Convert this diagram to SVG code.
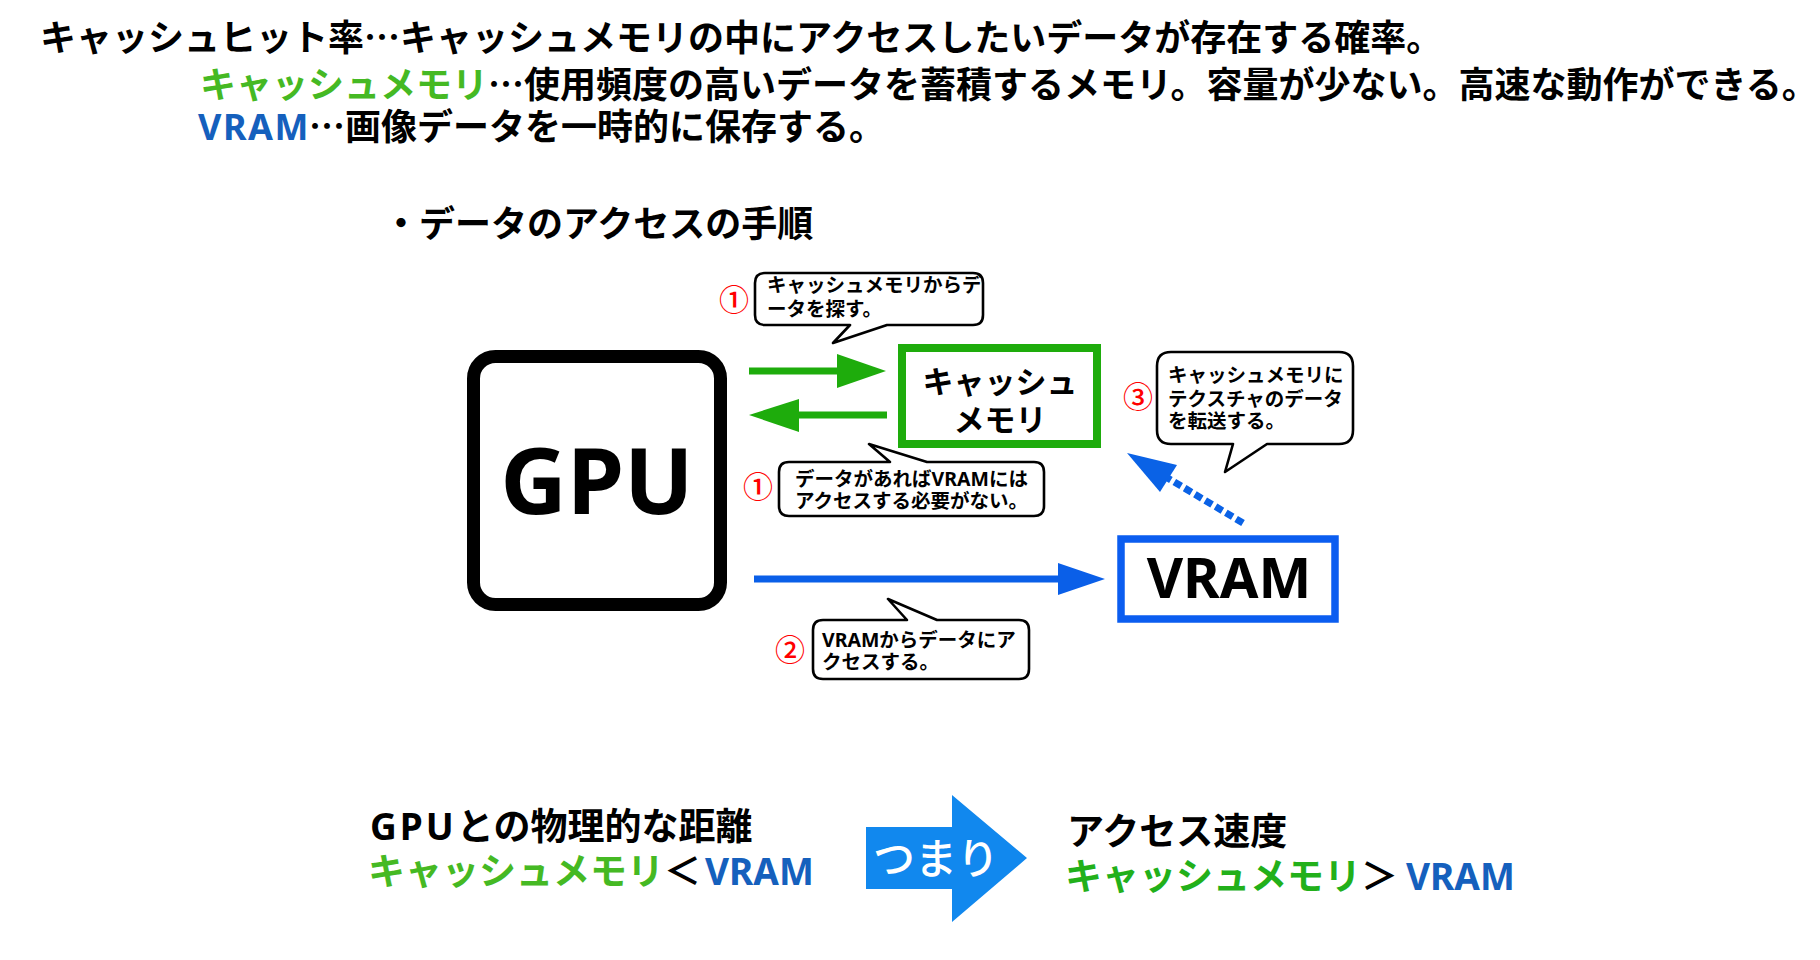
<svg xmlns="http://www.w3.org/2000/svg" width="1820" height="960" viewBox="0 0 1820 960">
<defs>
<style>
.t{font-family:"Noto Sans CJK JP","Noto Sans",sans-serif;font-weight:700;fill:#000}
.lat{font-family:"Noto Sans","Noto Sans CJK JP",sans-serif;font-weight:700}
.g1{fill:#45b923}
.g2{fill:#22b01a}
.b1{fill:#1560bd}
.num{font-family:"Noto Sans CJK JP",sans-serif;font-weight:500;fill:#ff0000;font-size:30px}
.call{fill:#fff;stroke:#000;stroke-width:2.6;stroke-linejoin:round}
.ct{font-family:"Noto Sans CJK JP","Noto Sans",sans-serif;font-weight:700;font-size:19.5px;fill:#000}
.garrow{stroke:#1eac0c;stroke-width:7;fill:none}
</style>
</defs>
<rect width="1820" height="960" fill="#fff"/>

<g id="header">
<text class="t" x="40" y="51" font-size="36">キャッシュヒット率…キャッシュメモリの中にアクセスしたいデータが存在する確率。</text>
<text class="t" x="200" y="98" font-size="36"><tspan class="g1">キャッシュメモリ</tspan>…使用頻度の高いデータを蓄積するメモリ。容量が少ない。高速な動作ができる。</text>
<text class="lat b1" x="198" y="140" font-size="36" letter-spacing="1.5">VRAM</text>
<text class="t" x="309" y="140" font-size="36">…画像データを一時的に保存する。</text>
<text class="t" x="383" y="237" font-size="36">・データのアクセスの手順</text>
</g>

<g id="gpu">
<rect x="473.5" y="356.5" width="247" height="248" rx="22" fill="#fff" stroke="#000" stroke-width="13"/>
<text class="lat" x="597" y="514" font-size="92" text-anchor="middle" fill="#000">GPU</text>
</g>

<g id="cache">
<rect x="902" y="348" width="195" height="96" fill="#fff" stroke="#1eac0c" stroke-width="8"/>
<text class="t" x="1000" y="393" font-size="31" text-anchor="middle">キャッシュ</text>
<text class="t" x="1000" y="431" font-size="31" text-anchor="middle">メモリ</text>
</g>

<g id="vram">
<rect x="1121" y="539" width="214" height="80" fill="#fff" stroke="#0b5df0" stroke-width="7.5"/>
<text class="lat" x="1229" y="598" font-size="56" text-anchor="middle" fill="#000">VRAM</text>
</g>

<g id="connectors">
<line class="garrow" x1="749" y1="371" x2="840" y2="371"/>
<polygon points="837,354 886,371 837,388" fill="#1eac0c"/>
<line class="garrow" x1="797" y1="415" x2="887" y2="415"/>
<polygon points="799,399 749,415 799,432" fill="#1eac0c"/>
<line x1="754" y1="579" x2="1060" y2="579" stroke="#0a5fe8" stroke-width="7"/>
<polygon points="1058,563 1105,579 1058,595" fill="#0a5fe8"/>
<line x1="1243" y1="523" x2="1166" y2="477" stroke="#0a62e6" stroke-width="7" stroke-dasharray="8 4"/>
<polygon points="1127,453 1160,492 1177,465" fill="#0a62e6"/>
</g>

<g id="callout1">
<path class="call" d="M765,273 H973 Q983,273 983,283 V315 Q983,325 973,325 H887 L833,343 L850,325 H765 Q755,325 755,315 V283 Q755,273 765,273 Z"/>
<text class="ct" x="767" y="292">キャッシュメモリからデ</text>
<text class="ct" x="767" y="316">ータを探す。</text>
<text class="num" x="734" y="311" text-anchor="middle">①</text>
</g>

<g id="callout2">
<path class="call" d="M789,462 H890 L869,444 L927,462 H1034 Q1044,462 1044,472 V506 Q1044,516 1034,516 H789 Q779,516 779,506 V472 Q779,462 789,462 Z"/>
<text class="ct" x="795" y="486">データがあれば<tspan class="lat">VRAM</tspan>には</text>
<text class="ct" x="795" y="508">アクセスする必要がない。</text>
<text class="num" x="758" y="498" text-anchor="middle">①</text>
</g>

<g id="callout3">
<path class="call" d="M823,620 H907 L888,599 L937,620 H1019 Q1029,620 1029,630 V669 Q1029,679 1019,679 H823 Q813,679 813,669 V630 Q813,620 823,620 Z"/>
<text class="ct" x="822" y="647"><tspan class="lat">VRAM</tspan>からデータにア</text>
<text class="ct" x="822" y="669">クセスする。</text>
<text class="num" x="790" y="661" text-anchor="middle">②</text>
</g>

<g id="callout4">
<path class="call" d="M1171,352 H1339 Q1353,352 1353,366 V430 Q1353,444 1339,444 H1267 L1225,472 L1233,444 H1171 Q1157,444 1157,430 V366 Q1157,352 1171,352 Z"/>
<text class="ct" x="1168" y="382">キャッシュメモリに</text>
<text class="ct" x="1168" y="406">テクスチャのデータ</text>
<text class="ct" x="1168" y="428">を転送する。</text>
<text class="num" x="1138" y="408" text-anchor="middle">③</text>
</g>

<g id="summary-left">
<text class="t" x="370" y="840" font-size="37"><tspan class="lat" letter-spacing="3">GPU</tspan>との物理的な距離</text>
<text class="t" x="368" y="885" font-size="37"><tspan class="g1">キャッシュメモリ</tspan>＜<tspan class="lat b1" dx="4">VRAM</tspan></text>
</g>

<g id="tsumari">
<polygon points="866,827 952,827 952,795 1027,858 952,922 952,889 866,889" fill="#1188ee"/>
<text x="873" y="874" font-size="42" fill="#fff" style="font-family:'Noto Sans CJK JP',sans-serif;font-weight:500">つまり</text>
</g>

<g id="summary-right">
<text class="t" x="1067" y="845" font-size="37">アクセス速度</text>
<text class="t" x="1065" y="890" font-size="37"><tspan class="g2">キャッシュメモリ</tspan>＞<tspan class="lat b1" dx="8">VRAM</tspan></text>
</g>
</svg>
